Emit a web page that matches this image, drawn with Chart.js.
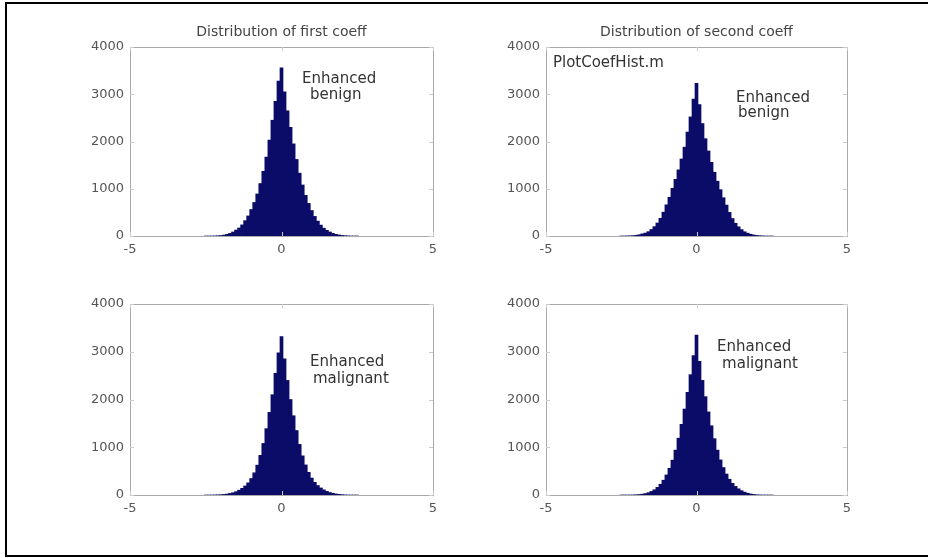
<!DOCTYPE html>
<html>
<head>
<meta charset="utf-8">
<script src="https://cdn.jsdelivr.net/npm/chart.js@4/dist/chart.umd.min.js"></script>
<style>
  html, body { margin: 0; padding: 0; background: #fff; overflow: hidden; }
  body { width: 928px; height: 558px; position: relative; }
  #frame { position: absolute; left: 5px; top: 2px; width: 923px; height: 555px; border-left: 2px solid #000; border-top: 2px solid #000; border-bottom: 2px solid #000; box-sizing: border-box; }
  canvas { position: absolute; }
</style>
</head>
<body>
<div id="frame"></div>
<canvas id="c1" width="398" height="249" style="left:60px;top:17px"></canvas>
<canvas id="c2" width="396" height="249" style="left:476px;top:17px"></canvas>
<canvas id="c3" width="398" height="251" style="left:60px;top:274px"></canvas>
<canvas id="c4" width="396" height="251" style="left:476px;top:274px"></canvas>
<script>
// bin centres of the histograms
const binCenters = [
  -2.5, -2.4, -2.3, -2.2, -2.1, -2.0, -1.9, -1.8, -1.7, -1.6, -1.5, -1.4, -1.3, -1.2, -1.1, -1.0, -0.9,
  -0.8, -0.7, -0.6, -0.5, -0.4, -0.3, -0.2, -0.1, 0, 0.1, 0.2, 0.3, 0.4, 0.5, 0.6, 0.7, 0.8, 0.9,
  1.0, 1.1, 1.2, 1.3, 1.4, 1.5, 1.6, 1.7, 1.8, 1.9, 2.0, 2.1, 2.2, 2.3, 2.4, 2.5
];

// counts
const firstBenign = [
  0, 0, 0, 2, 5, 10, 20, 35, 55, 85, 125, 170, 235, 325, 425, 560, 710,
  890, 1110, 1370, 1670, 2030, 2450, 2850, 3280, 3560, 3050, 2650, 2300, 1950, 1620, 1330, 1080, 860, 690,
  540, 415, 315, 230, 165, 120, 85, 55, 35, 22, 12, 6, 3, 0, 0, 0
];
const secondBenign = [
  0, 0, 2, 4, 8, 15, 27, 45, 62, 92, 138, 198, 275, 375, 505, 660, 820,
  1010, 1200, 1400, 1630, 1880, 2200, 2520, 2900, 3230, 2780, 2380, 2060, 1800, 1560, 1350, 1160, 980, 810,
  655, 500, 370, 270, 195, 135, 90, 60, 38, 22, 12, 6, 3, 0, 0, 0
];
const firstMalignant = [
  0, 0, 0, 2, 4, 7, 12, 20, 32, 48, 70, 100, 140, 190, 255, 345, 465,
  625, 830, 1080, 1390, 1730, 2100, 2550, 2980, 3320, 2850, 2400, 2000, 1660, 1350, 1060, 820, 630, 475,
  355, 265, 198, 148, 108, 76, 52, 35, 22, 13, 7, 3, 0, 0, 0, 0
];
const secondMalignant = [
  0, 0, 0, 0, 2, 5, 10, 18, 30, 48, 75, 110, 160, 225, 310, 420, 560,
  730, 940, 1190, 1480, 1800, 2150, 2520, 2920, 3350, 2800, 2400, 2060, 1740, 1450, 1180, 940, 735, 575,
  440, 330, 245, 180, 130, 90, 60, 38, 22, 12, 5, 2, 0, 0, 0, 0
];

const xTicks = [-5, 0, 5];
const yTicks = [0, 1000, 2000, 3000, 4000];

const titles = ["Distribution of first coeff", "Distribution of second coeff", "", ""];
const notes = [
  [{ text: "Enhanced", x: 0.68, y: 3320 }, { text: "benign", x: 0.94, y: 2985 }],
  [{ text: "PlotCoefHist.m", x: -4.77, y: 3660 }, { text: "Enhanced", x: 1.31, y: 2920 }, { text: "benign", x: 1.38, y: 2600 }],
  [{ text: "Enhanced", x: 0.94, y: 2785 }, { text: "malignant", x: 1.04, y: 2430 }],
  [{ text: "Enhanced", x: 0.68, y: 3100 }, { text: "malignant", x: 0.85, y: 2745 }]
];

Chart.defaults.font.family = "'DejaVu Sans', sans-serif";
Chart.defaults.color = "#555";

const boxPlugin = {
  id: "box",
  afterDraw(chart) {
    const a = chart.chartArea;
    const ctx = chart.ctx;
    const xs = chart.scales.x, ys = chart.scales.y;
    ctx.save();
    ctx.strokeStyle = "#aaa";
    ctx.lineWidth = 1;
    ctx.strokeRect(Math.round(a.left) + 0.5, Math.round(a.top) + 0.5, Math.round(a.right - a.left), Math.round(a.bottom - a.top));
    ctx.strokeStyle = "#ccc";
    ctx.beginPath();
    xTicks.forEach(v => {
      const px = Math.round(xs.getPixelForValue(v)) + 0.5;
      ctx.moveTo(px, a.top); ctx.lineTo(px, a.top + 4);
      ctx.moveTo(px, a.bottom); ctx.lineTo(px, a.bottom - 4);
    });
    yTicks.forEach(v => {
      const py = Math.round(ys.getPixelForValue(v)) + 0.5;
      ctx.moveTo(a.left, py); ctx.lineTo(a.left + 4, py);
      ctx.moveTo(a.right, py); ctx.lineTo(a.right - 4, py);
    });
    ctx.stroke();
    ctx.restore();
  }
};

const notePlugin = {
  id: "notes",
  afterDatasetsDraw(chart, args, opts) {
    const ctx = chart.ctx;
    ctx.save();
    ctx.font = "15px 'DejaVu Sans', sans-serif";
    ctx.fillStyle = "#333";
    ctx.textAlign = "left";
    ctx.textBaseline = "middle";
    (opts.items || []).forEach(n => {
      ctx.fillText(n.text, chart.scales.x.getPixelForValue(n.x), chart.scales.y.getPixelForValue(n.y));
    });
    ctx.restore();
  }
};

function makeChart(id, values, title, items) {
  const points = binCenters.map((x, i) => ({ x: x, y: values[i] }));
  return new Chart(document.getElementById(id), {
    type: "bar",
    data: {
      datasets: [{
        data: points,
        backgroundColor: "#0b0b68",
        borderWidth: 0,
        barPercentage: 1,
        categoryPercentage: 1
      }]
    },
    options: {
      responsive: false,
      animation: false,
      layout: { padding: { left: 0, right: 25, top: title ? 0 : 30, bottom: 0 } },
      plugins: {
        legend: { display: false },
        tooltip: { enabled: false },
        title: {
          display: !!title,
          text: title,
          fullSize: false,
          color: "#444",
          font: { size: 14, weight: "normal" },
          padding: { top: 7, bottom: 6.2 }
        },
        notes: { items: items }
      },
      scales: {
        x: {
          type: "linear",
          min: -5,
          max: 5,
          offset: false,
          grid: { display: false, drawTicks: false },
          border: { display: false },
          ticks: { stepSize: 5, padding: 6, font: { size: 13 }, maxRotation: 0 },
          afterFit(s) { s.height = 30; }
        },
        y: {
          min: 0,
          max: 4000,
          grid: { display: false, drawTicks: false },
          border: { display: false },
          ticks: { stepSize: 1000, padding: 6, font: { size: 13 }, callback: v => String(v) },
          afterFit(s) { s.width = 70; }
        }
      }
    },
    plugins: [boxPlugin, notePlugin]
  });
}

makeChart("c1", firstBenign, titles[0], notes[0]);
makeChart("c2", secondBenign, titles[1], notes[1]);
makeChart("c3", firstMalignant, titles[2], notes[2]);
makeChart("c4", secondMalignant, titles[3], notes[3]);
</script>
</body>
</html>
